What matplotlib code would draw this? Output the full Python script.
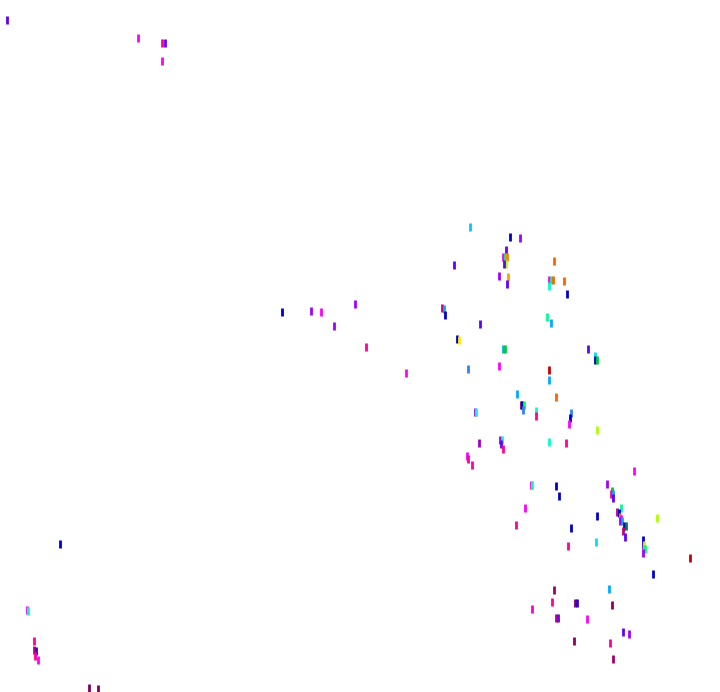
import matplotlib
matplotlib.use("Agg")
import matplotlib.pyplot as plt

# Point positions (x to the right, y downward) and colours
xs = [7, 138, 162, 165, 162, 470, 510, 520, 506, 503, 505, 507, 506, 504, 454, 499, 508, 507,
      554, 549, 551, 553, 549, 564, 567, 442, 444, 445, 547, 551, 480, 282, 311, 321, 355, 334,
      366, 406, 457, 459, 503, 505, 588, 595, 595, 597, 468, 499, 549, 549, 517, 556, 521, 522,
      524, 523, 475, 476, 536, 536, 571, 570, 569, 597, 479, 500, 502, 501, 503, 549, 566, 467,
      468, 472, 634, 531, 532, 556, 559, 607, 612, 611, 613, 613, 525, 621, 617, 619, 620, 621,
      620, 622, 624, 626, 623, 625, 597, 657, 516, 571, 596, 568, 643, 643, 644, 645, 643, 690,
      653, 554, 609, 552, 532, 575, 577, 612, 556, 558, 587, 623, 629, 574, 610, 613, 60, 27,
      28, 34, 34, 36, 35, 38, 89, 98]

ys = [20, 38, 43, 43, 61, 227, 237, 238, 250, 257, 257, 257, 264, 264, 265, 276, 277, 284,
      261, 280, 280, 280, 286, 281, 294, 308, 309, 315, 317, 323, 324, 312, 311, 312, 304, 326,
      347, 373, 339, 340, 349, 349, 349, 356, 360, 360, 369, 366, 370, 380, 394, 397, 405, 405,
      405, 410, 412, 412, 411, 416, 413, 418, 424, 430, 443, 440, 440, 444, 449, 442, 443, 456,
      459, 465, 471, 485, 485, 486, 496, 484, 491, 494, 494, 498, 508, 508, 512, 513, 517, 519,
      521, 521, 526, 526, 531, 537, 516, 518, 525, 528, 542, 546, 540, 545, 545, 549, 553, 558,
      574, 590, 589, 602, 609, 603, 603, 605, 618, 618, 619, 632, 634, 641, 643, 659, 544, 610,
      611, 641, 650, 651, 656, 660, 688, 689]

colors = ["#5a00ff", "#ff00ff", "#ff0090", "#6a00ff", "#ff00ff", "#00c8ff", "#0000cc", "#a000ff",
          "#6000ff", "#ff00ff", "#00ff60", "#ff8000", "#b0ff00", "#6000ff", "#6000ff", "#a000ff",
          "#ffa000", "#6000ff", "#ff6000", "#ff00ff", "#00ff90", "#ff6000", "#00ffd0", "#ff6000",
          "#0000cc", "#d0007a", "#00aaff", "#0000cc", "#00ff90", "#00aaff", "#6000ff", "#0000cc",
          "#a000ff", "#ff00ff", "#a000ff", "#a000ff", "#ff0099", "#ff00ff", "#0000cc", "#ffee00",
          "#00aaff", "#00cc30", "#6000ff", "#00ddff", "#0000cc", "#00cc30", "#3080ff", "#ff00ff",
          "#cc0000", "#00aaff", "#00aaff", "#ff6000", "#800080", "#0000aa", "#00ff60", "#3080ff",
          "#a000ff", "#00ffe0", "#00ffd0", "#ff0099", "#3080ff", "#0000cc", "#ff00ff", "#b0ff00",
          "#a000c0", "#a000ff", "#00ffe0", "#6000ff", "#ff0099", "#00ffd0", "#ff0099", "#ff00ff",
          "#ff0099", "#ff00aa", "#ff00ff", "#ff00ff", "#00ffd0", "#0000cc", "#0000cc", "#a000ff",
          "#00cc00", "#ff0099", "#00aaff", "#6000ff", "#ff00ff", "#00ff90", "#c00080", "#0000cc",
          "#ff8000", "#ff00ff", "#a000ff", "#00aaff", "#0000aa", "#008040", "#c00080", "#6000ff",
          "#0000cc", "#b0ff00", "#ff0099", "#0000cc", "#00ddff", "#ff0099", "#0000cc", "#6000ff",
          "#b0ff00", "#00ff60", "#a000ff", "#cc0000", "#0000cc", "#a00060", "#00aaff", "#ff0099",
          "#ff00cc", "#800060", "#3000cc", "#900060", "#c00080", "#6000ff", "#ff00ff", "#6000ff",
          "#a000ff", "#900060", "#ff0099", "#a00070", "#0000cc", "#ff00ff", "#00ffd0", "#ff0099",
          "#c00080", "#3000cc", "#ff0099", "#ff00ff", "#800060", "#800060"]


def main():
    fig = plt.figure(figsize=(7.2, 6.92), dpi=100)
    ax = fig.add_axes([0, 0, 1, 1])

    # short vertical dashes, no axes at all
    ax.scatter(xs, ys, c=colors, marker="|", s=36, linewidths=2)

    ax.set_xlim(0, 720)
    ax.set_ylim(692, 0)
    ax.axis("off")

    fig.savefig("out.png", dpi=100, facecolor="white")


main()
